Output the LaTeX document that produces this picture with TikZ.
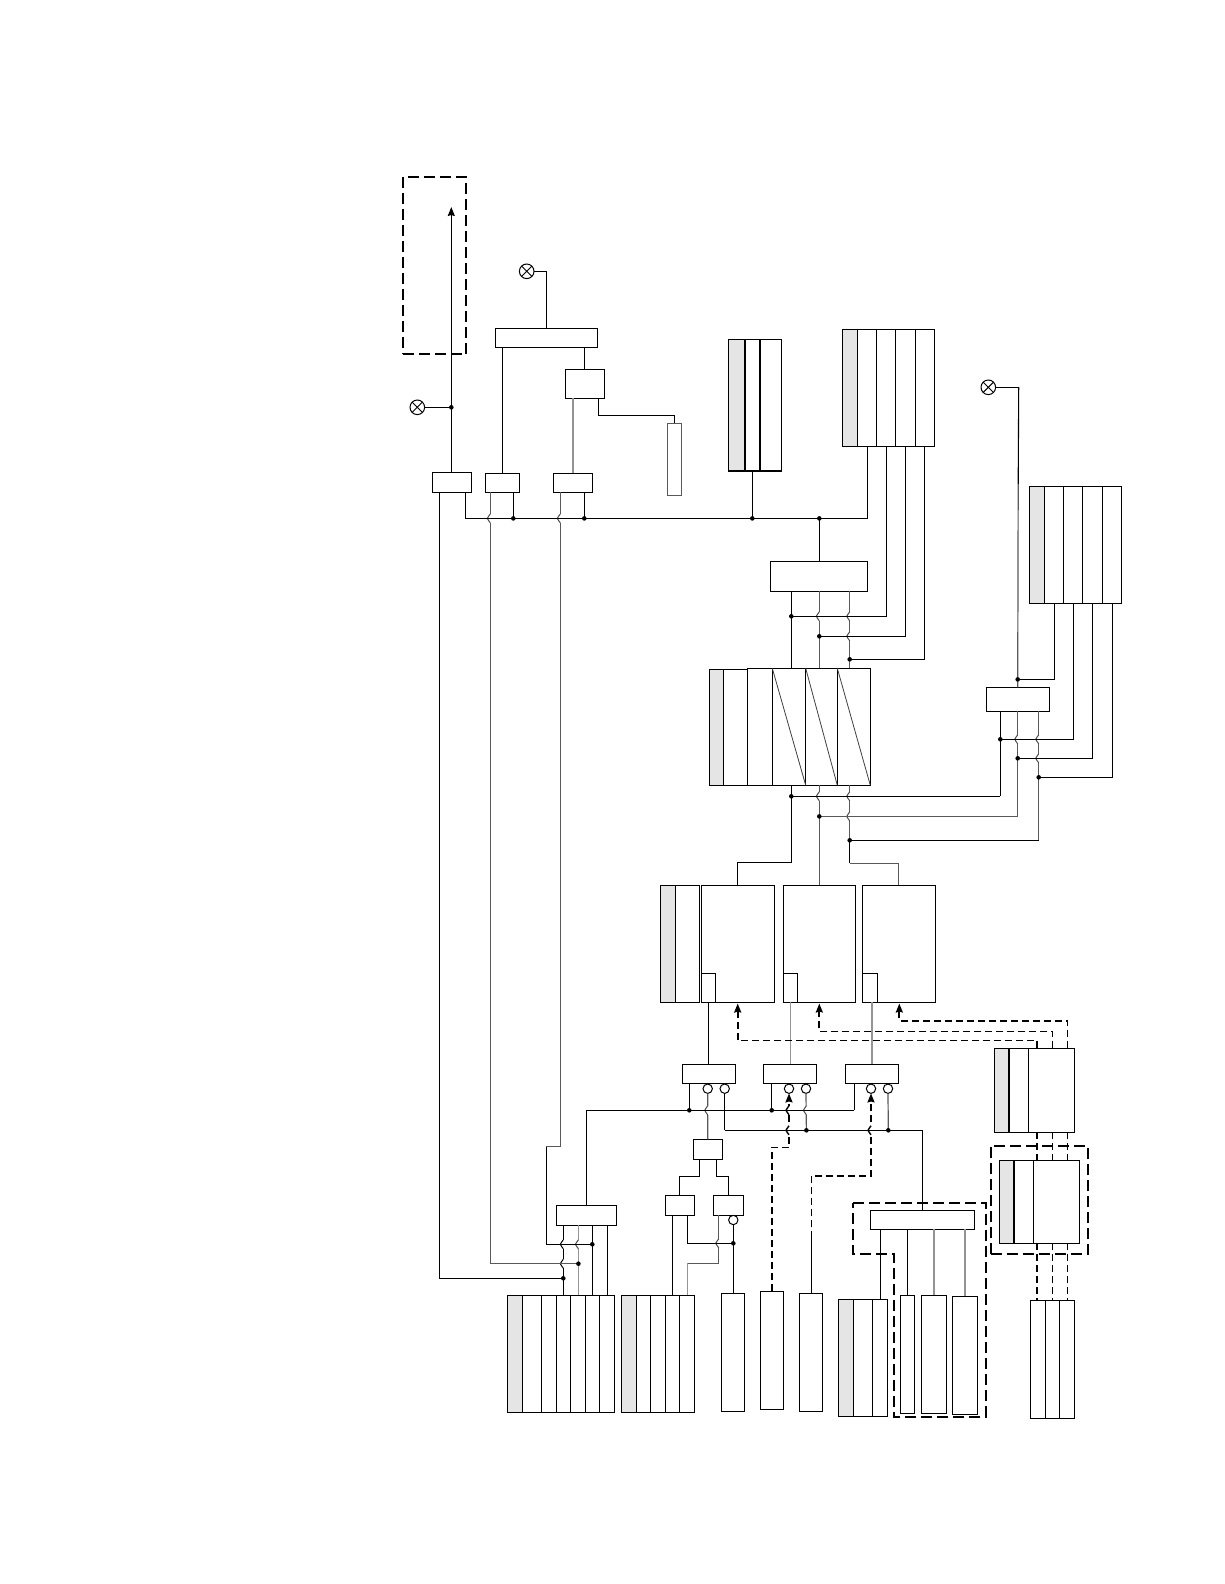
\documentclass[tikz,border=0pt]{standalone}
\usetikzlibrary{arrows.meta}
\definecolor{cellgray}{gray}{0.9}
\tikzset{
  cell/.style={draw=black,fill=white,line width=1.1pt,inner sep=0pt,outer sep=0pt,rectangle},
  greycell/.style={cell,draw=black!65},
  wire/.style={draw=black,line width=1.1pt},
  gwire/.style={draw=black!65,line width=1.2pt},
  lwire/.style={draw=black!42,line width=1.5pt},
  dashwire/.style={draw=black,line width=1.8pt,dash pattern=on 7pt off 4pt},
  frame/.style={draw=black,line width=2pt,dash pattern=on 11pt off 5pt},
  tipped/.style={-{Stealth[length=9pt,width=7pt,inset=1pt]}},
  hopw/.style={draw=black!70,line width=1pt},
  hopd/.style={draw=black,line width=1.4pt},
  ring/.style={circle,draw=black,fill=white,line width=1pt,inner sep=0pt,outer sep=0pt,minimum size=9.4pt},
  xring/.style={ring,minimum size=14.6pt},
  dotm/.style={fill=black},
}
\newcommand{\bx}[6][cell]{\node[#1,minimum width={(#5-#3)*1pt},minimum height={(#6-#4)*1pt}] (#2) at ({(#3+#5)/2},{(#4+#6)/2}) {};}
\newcommand{\block}[5]{\foreach \a/\b [count=\i] in {#5} {%
  \def\fc{white}\ifnum\i=1 \def\fc{#2}\fi
  \bx[cell,fill=\fc]{#1-\i}{\a}{#3}{\b}{#4}}}
\newcommand{\hop}[3][hopw]{%
  \fill[white] (#2-1.3,#3-4.5) rectangle (#2+1.3,#3+4.5);
  \draw[#1] (#2,#3-4.5) .. controls (#2,#3-2.5) and (#2-3,#3-2.5) .. (#2-3,#3) .. controls (#2-3,#3+2.5) and (#2,#3+2.5) .. (#2,#3+4.5);}
\newcommand{\xr}[3]{\node[xring] (#1) at (#2,#3) {};
  \draw[line width=.9pt] (#1.north west) -- (#1.south east) (#1.north east) -- (#1.south west);}
\begin{document}
\begin{tikzpicture}[x=1pt,y=-1pt]
\useasboundingbox (0,0) rectangle (1224,1584);
% ---- boxes
\bx{A}{432.3}{472.3}{471.7}{492.3}
\bx{B}{485.3}{473.3}{519.7}{492.3}
\bx{C}{553.3}{473.3}{592.3}{492.3}
\bx{Top}{495.3}{328.3}{597.3}{347.3}
\bx{S}{565.3}{369.3}{604.3}{398.3}
\bx[greycell]{G}{667.3}{423.3}{681.7}{495.3}
\block{Tg}{cellgray}{339.3}{471}{728.3/744.7,744.7/760,760/781.3}
\block{T}{cellgray}{329.3}{446.3}{842.3/857.3,857.3/876.3,876.3/895.3,895.3/915.3,915.3/934.3}
\block{Rb}{cellgray}{486.3}{603.3}{1029.3/1044.3,1044.3/1063.3,1063.3/1082.3,1082.3/1102.3,1102.3/1121.3}
\bx{V}{770.3}{561.3}{867.3}{591.3}
\bx{W}{986.3}{687.3}{1049.7}{711.3}
\bx[cell,fill=cellgray]{st1}{709.3}{669.3}{723.3}{785.3}
\bx{st2}{723.3}{669.3}{747.3}{785.3}
\bx{st3}{747.3}{668.3}{772.3}{785.3}
\bx{st4}{772.3}{668.3}{805.7}{785.3}
\bx{st5}{805.7}{668.3}{837.3}{785.3}
\bx{st6}{837.3}{668.3}{870.3}{785.3}
\block{Hb}{cellgray}{885.3}{1002.3}{660.3/675.3,675.3/699.3}
\bx{B1}{701.3}{885.3}{774.3}{1002.3}
\bx{B2}{783.3}{885.3}{855.3}{1002.3}
\bx{B3}{862.3}{885.3}{935.3}{1002.3}
\bx{I1}{701.3}{973.3}{715.3}{1002.3}
\bx{I2}{783.3}{973.3}{797.3}{1002.3}
\bx{I3}{862.3}{973.3}{877.3}{1002.3}
\bx{M1}{682.3}{1064.3}{735.7}{1083.7}
\bx{M2}{763.3}{1064.3}{816.7}{1083.7}
\bx{M3}{845.3}{1064.3}{898.7}{1083.7}
\block{Ea}{cellgray}{1048.3}{1132.3}{994.3/1009,1009/1028.7,1028.7/1074.3}
\block{Eb}{cellgray}{1160.3}{1243.3}{999.3/1014,1014/1033.3,1033.3/1079.3}
\block{Ec}{white}{1300.3}{1418.3}{1030.3/1045.7,1045.7/1059.7,1059.7/1074.3}
\bx{K}{693.3}{1139.3}{722.3}{1159.3}
\bx{L}{665.3}{1195.3}{694.3}{1215.3}
\bx{RB}{713.3}{1195.3}{743.3}{1215.3}
\bx{LB}{556.3}{1205.3}{616.7}{1225.3}
\block{Pa}{cellgray}{1295.3}{1412.3}{507.3/522.3,522.3/541.3,541.3/556.3,556.3/570.3,570.3/585.3,585.3/599.3,599.3/614.3}
\block{Pb}{cellgray}{1295.3}{1412.3}{621.3/636.3,636.3/650.3,650.3/665.3,665.3/679.3,679.3/694.3}
\bx{R1}{721.3}{1293.3}{744.3}{1411.3}
\bx{R2}{760.3}{1291.3}{783.3}{1409.3}
\bx{R3}{799.3}{1293.3}{822.3}{1411.3}
\block{Pc}{cellgray}{1299.3}{1416.3}{838.3/853.3,853.3/872.3,872.3/887.3}
\bx{BG}{870.3}{1210.3}{974.3}{1229.3}
\bx{F1}{900.3}{1295.3}{914.3}{1413.7}
\bx{F2}{921.3}{1295.3}{946.3}{1413.7}
\bx{F3}{952.3}{1296.3}{977.7}{1414.3}
% thick dividers
\draw[line width=2pt] (Tg-2.north west) -- (Tg-2.south west);
\draw[line width=2pt] (Tg-3.north west) -- (Tg-3.south west);
\draw[line width=2pt] (Tg-2.south west) -- (Tg-3.south east);
\draw[line width=2pt] (Ea-2.north west) -- (Ea-2.south west);
\draw[line width=2pt] (Eb-2.north west) -- (Eb-2.south west);
% diagonals in the block
\draw[draw=black!75,line width=.8pt] (st4.north west) -- (st4.south east);
\draw[draw=black!75,line width=.8pt] (st5.north west) -- (st5.south east);
\draw[draw=black!75,line width=.8pt] (st6.north west) -- (st6.south east);
% ---- rings
\node[ring] (c11) at (707.7,1088.7) {};
\node[ring] (c12) at (724.7,1088.7) {};
\node[ring] (c21) at (789,1088.7) {};
\node[ring] (c22) at (806,1088.7) {};
\node[ring] (c31) at (871,1088.7) {};
\node[ring] (c32) at (888,1088.7) {};
\node[ring] (c4) at (733.3,1220) {};
\xr{x1}{417.3}{407.3}
\xr{x2}{526.7}{271.3}
\xr{x3}{988.3}{387.3}
% ---- junctions and bends
\foreach \n/\x/\y in {pa/451.3/407.3,atip/451.3/207,bb/513.3/518.4,bc/584.3/518.4,bd/752.3/518.4,be/819.3/518.4,
  busl/465.3/518.4,j1/791.3/616.3,j2/819.3/636.3,j3/849.7/659.3,k1/791.3/796.3,k2/819.3/816.4,k3/849.7/840.3,
  lo1/791.3/862.3,lo3/849.7/863.3,m0/1017.7/679.4,m1/1000.3/739.3,m2/1017.7/758.3,m3/1038.7/777.3,
  t0/867.3/446.3,t1/886.3/446.3,t2/905.3/446.3,t3/924.3/446.3,
  r0/1054.3/603.3,r1/1073.3/603.3,r2/1092.3/603.3,r3/1112.3/603.3,
  n1/689.3/1110.3,n2/771.7/1110.3,n3/806.4/1130.3,n4/888.3/1130.3,n5/854.3/1110.3,n6/922.3/1130.3,
  p1/733.3/1243.3,q1/592.3/1244.3,q2/578.4/1263.7,q3/563.3/1278.3,q4/607.3/1295.3,
  sb/598.7/415.3,wt/1018.7/387.3,wm/1018.2/484,
  gb/490.3/1263.7,gc/560.3/1146.7,gd/546.3/1146.7,gh/546.3/1244.3,al/439.3/1278.3,
  da/737.7/1040.4,db/819.3/1031.4,dc/899.3/1020.7,a1/737.7/1003.5,a2/819.3/1003.5,a3/899.3/1003.5,
  dt1/1037.3/1048.3,dt2/1052.4/1048.3,dt3/1067.4/1048.3,
  dd1/771.8/1147.4,dd2/811.4/1176.3,so/811.4/1232,
  ka/699.7/1176.3,kb/716.3/1176.3,la/672.7/1295.3,lb/687.3/1243.3,rg/718.7/1263.3,rh/687.4/1263.3,ri/687.4/1295.3,
  gl/880.3/1299.3}
  {\coordinate (\n) at (\x,\y);}
% ---- vertical wires first
\draw[wire,tipped] (A.north -| pa) -- (atip);
\draw[wire] (x1.east) -- (pa);
\draw[wire] (x2.east) -| (Top.north);
\draw[wire] (Top.south -| B.north) -- (B.north);
\draw[wire] (Top.south -| S.north) -- (S.north);
\draw[lwire] (S.south -| C.north) -- (C.north);
\draw[wire] (S.south -| sb) -- (sb) -| (G.north);
\draw[wire] (bd) -- (Tg-2.south -| bd);
\draw[wire] (be) -- (V.north -| be);
\draw[gwire] (B.south -| gb) -- (gb);
\draw[wire] (B.south -| bb) -- (bb);
\draw[gwire] (C.south -| gc) -- (gc) -- (gd);
\draw[wire] (C.south -| bc) -- (bc);
\draw[wire] (A.south -| al) -- (al);
\draw[wire] (gd) -- (gh);
\draw[wire] (A.south -| busl) -- (busl);
\draw[wire] (V.south -| j1) -- (st4.north -| j1);
\draw[gwire] (V.south -| j2) -- (st5.north -| j2);
\draw[gwire] (V.south -| j3) -- (st6.north -| j3);
\draw[wire] (st4.south -| k1) -- (lo1) -| (B1.north);
\draw[gwire] (st5.south -| k2) -- (B2.north -| k2);
\draw[gwire] (st6.south -| k3) -- (k3);
\draw[wire] (k3) -- (lo3);
\draw[gwire] (lo3) -| (B3.north);
\draw[wire] (W.south -| m1) -- (m1 |- k1);
\draw[gwire] (W.south -| m2) -- (m2 |- k2);
\draw[gwire] (W.south -| m3) -- (m3 |- k3);
\draw[wire] (wt) -- (wm);
\draw[gwire] (wm) -- (W.north -| m0);
\draw[wire] (x3.east) -- (wt);
\draw[wire] (I1.south) -- (M1.north -| I1.south);
\draw[lwire] (I2.south) -- (M2.north -| I2.south);
\draw[lwire] (M3.north) -- (I3.south -| M3.north);
\draw[wire] (M1.south -| n1) -- (n1);
\draw[wire] (M2.south -| n2) -- (n2);
\draw[wire] (M3.south -| n5) -- (n5);
\draw[gwire] (c11.south) -- (K.north);
\draw[wire] (c12.south) -- (c12.south |- n6);
\draw[gwire] (c22.south) -- (n3);
\draw[gwire] (c32.south) -- (n4);
\draw[wire] (n6) -- (BG.north);
\draw[wire] (K.south -| ka) -- (ka) -| (L.north);
\draw[wire] (K.south -| kb) -- (kb) -| (RB.north);
\draw[wire] (L.south -| la) -- (la);
\draw[wire] (L.south -| lb) -- (lb);
\draw[gwire] (RB.south -| rg) -- (rg);
\draw[wire] (c4.south) -- (R1.north -| c4.south);
\draw[wire] (LB.south -| q3) -- (Pa-4.north -| q3);
\draw[lwire] (LB.south -| q2) -- (Pa-5.north -| q2);
\draw[wire] (LB.south -| q1) -- (Pa-6.north -| q1);
\draw[wire] (LB.south -| q4) -- (q4);
\draw[wire] (LB.north) |- (n5);
\draw[wire] (BG.south -| gl) -- (gl);
\draw[wire] (BG.south -| F1.north) -- (F1.north);
\draw[lwire] (BG.south -| F2.north) -- (F2.north);
\draw[lwire] (BG.south -| F3.north) -- (F3.north);
% dashed connectors
\draw[dashwire,tipped] (dt1) |- (da) -- (a1);
\draw[dashwire,tipped] (dt2) |- (db) -- (a2);
\draw[dashwire,tipped] (dt3) |- (dc) -- (a3);
\foreach \d in {dt1,dt2,dt3} {
  \draw[dashwire] (Ea-3.south -| \d) -- (Eb-3.north -| \d);
  \draw[dashwire] (Eb-3.south -| \d) -- (Ec-1.north -| \d);
}
\draw[dashwire,tipped] (R2.north) -- (dd1) -| (c21.south);
\draw[dashwire,tipped] (R3.north -| dd2) -- (dd2) -| (c31.south);
\draw[draw=black,line width=.9pt] (R3.north -| so) -- (so);
% ---- hops
\hop{490.3}{518.4} \hop{560.3}{518.4}
\hop{819.3}{616.3} \hop{849.7}{616.3} \hop{849.7}{636.3}
\hop{819.3}{796.3} \hop{849.7}{796.3} \hop{849.7}{816.4}
\hop{1017.7}{739.3} \hop{1038.7}{739.3} \hop{1038.7}{758.3}
\hop{707.7}{1110.3} \hop{806.4}{1110.3}
\hop[hopd]{789}{1110.3} \hop[hopd]{789}{1130.3} \hop[hopd]{871}{1130.3}
\hop[draw=black,line width=1pt]{563.3}{1244.3} \hop[draw=black,line width=1pt]{563.3}{1263.7}
\hop{578.4}{1244.3} \hop{718.7}{1243.3}
% ---- horizontal wires
\draw[wire] (busl) -| (t0);
\draw[wire] (j1) -| (t1);
\draw[wire] (j2) -| (t2);
\draw[wire] (j3) -| (t3);
\draw[wire] (k1) -- (m1 |- k1);
\draw[gwire] (k2) -- (m2 |- k2);
\draw[wire] (k3) -- (m3 |- k3);
\draw[wire] (m0) -| (r0);
\draw[wire] (m1) -| (r1);
\draw[wire] (m2) -| (r2);
\draw[wire] (m3) -| (r3);
\draw[wire] (n1 -| LB.north) -- (n5);
\draw[wire] (c12.south |- n6) -- (n6);
\draw[gwire] (gb) -- (q2);
\draw[wire] (gh) -- (q1);
\draw[wire] (al) -- (q3);
\draw[wire] (L.south -| lb) -- (lb) -- (p1);
\draw[gwire] (rg) -- (rh);
\draw[lwire] (rh) -- (ri);
% ---- dots
\foreach \d in {pa,bb,bc,bd,be,j1,j2,j3,k1,k2,k3,m0,m1,m2,m3,n1,n2,n3,n4,p1,q1,q2,q3}
  {\fill[dotm] (\d) circle (2.3pt);}
% ---- dashed frames
\bx[frame,fill=none]{Fa}{402.5}{177}{466}{354}
\bx[frame,fill=none]{Fb}{990.7}{1146}{1088}{1254}
\draw[frame] (853.3,1202.7) -- (985.7,1202.7) -- (985.7,1416.7) -- (893.7,1416.7) -- (893.7,1254) -- (853.3,1254) -- cycle;
\end{tikzpicture}
\end{document}
